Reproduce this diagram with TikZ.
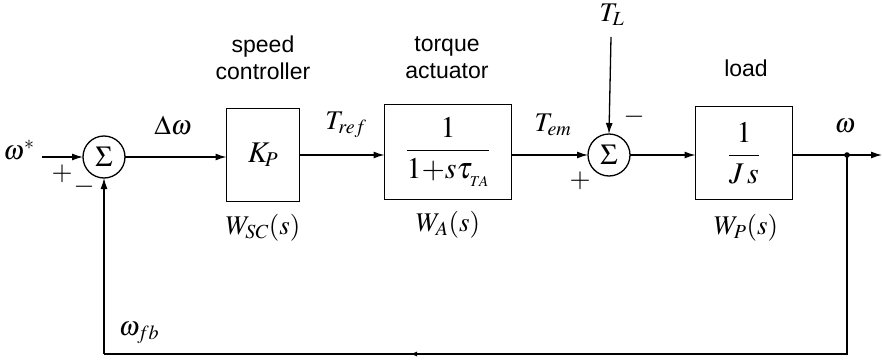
\documentclass[tikz,border=0pt]{standalone}
\usepackage{mathptmx}
\usepackage[no-math]{fontspec}
\setsansfont{Liberation Sans}
\DeclareMathSizes{27}{27}{20}{15}
\DeclareMathSizes{30}{30}{21}{15}
\DeclareMathSizes{29}{29}{20}{15}
\usetikzlibrary{arrows.meta}
\begin{document}
\begin{tikzpicture}[x=1pt,y=-1pt,
  every node/.style={inner sep=0pt,outer sep=0pt},
  blk/.style={draw,line width=1.3pt,rectangle},
  sumnode/.style={draw,circle,line width=1.3pt,minimum size=42pt,inner sep=0pt},
  sig/.style={line width=1.3pt,-{Latex[length=11pt,width=7pt]}},
  wire/.style={line width=1.3pt},
  lbl/.style={font=\fontsize{27}{29}\selectfont},
  inb/.style={font=\fontsize{30}{32}\selectfont},
  txt/.style={font=\sffamily\fontsize{23}{27}\selectfont,align=center},
  sgn/.style={font=\fontsize{27}{27}\selectfont}]
\useasboundingbox (0,0) rectangle (882,361);
% nodes
\node[lbl] (win) at (19,150) {$\omega^{*}$};
\coordinate (inS) at (42,157);
\node[sumnode,font=\fontsize{29}{30}\selectfont] (s1) at (104,157) {$\Sigma$};
\node[blk,inb,minimum width=73pt,minimum height=93pt] (kp) at (263,155) {$K_{\!P}$};
\node[blk,inb,minimum width=127pt,minimum height=95pt] (wa) at (448,152) {$\displaystyle\frac{\;1\;}{1{+}s\tau_{_{TA}}}$};
\node[sumnode,font=\fontsize{29}{30}\selectfont] (s2) at (609,155) {$\Sigma$};
\node[blk,inb,minimum width=97pt,minimum height=93pt] (wp) at (744,153) {$\displaystyle\frac{\;1\;}{J\,s}$};
\node[lbl] (tl) at (612,15) {$T_{L}$};
\coordinate (tltop) at (611,37);
\coordinate (dot) at (847,155);
\coordinate (out) at (882,155);
\coordinate (c1) at (847,354);
\coordinate (mid) at (410,354);
\coordinate (c2) at (104,354);
% labels
\node[txt] (t1) at (263,58) {speed\\controller};
\node[txt] (t2) at (447,58) {torque\\actuator};
\node[txt] (t3) at (746,68) {load};
\node[lbl] (l1) at (173,126) {$\Delta\omega$};
\node[lbl] (l2) at (346,125) {$T_{ref}$};
\node[lbl] (l3) at (553,125) {$T_{em}$};
\node[lbl] (l4) at (845,126) {$\omega$};
\node[lbl] (l5) at (139,333) {$\omega_{fb}$};
\node[lbl] (w1) at (263,228) {$W_{SC}(s)$};
\node[lbl] (w2) at (448,225) {$W_{A}(s)$};
\node[lbl] (w3) at (746,228) {$W_{P}(s)$};
\node[sgn] (p1) at (62,174) {$+$};
\node[sgn] (m1) at (84,187) {$-$};
\node[sgn] (p2) at (580,181) {$+$};
\node[sgn] (m2) at (634,117) {$-$};
% connectors
\draw[sig] (inS) -- (s1.west);
\draw[sig] (s1.east) -- (kp.west |- s1.east);
\draw[sig] (kp.east) -- (wa.west |- kp.east);
\draw[sig] (wa.east |- s2.west) -- (s2.west);
\draw[sig] (tltop) -- (s2.north);
\draw[sig] (s2.east) -- (wp.west |- s2.east);
\draw[sig] (wp.east |- dot) -- (out);
\fill (dot) circle (2.8pt);
\draw[wire] (dot) -- (c1) -- (mid);
\draw[line width=1.3pt,-{Latex[length=7pt,width=5pt]}] (c1) -- (mid);
\draw[wire] (mid) -- (c2);
\draw[sig] (c2) -- (s1.south);
\end{tikzpicture}
\end{document}
